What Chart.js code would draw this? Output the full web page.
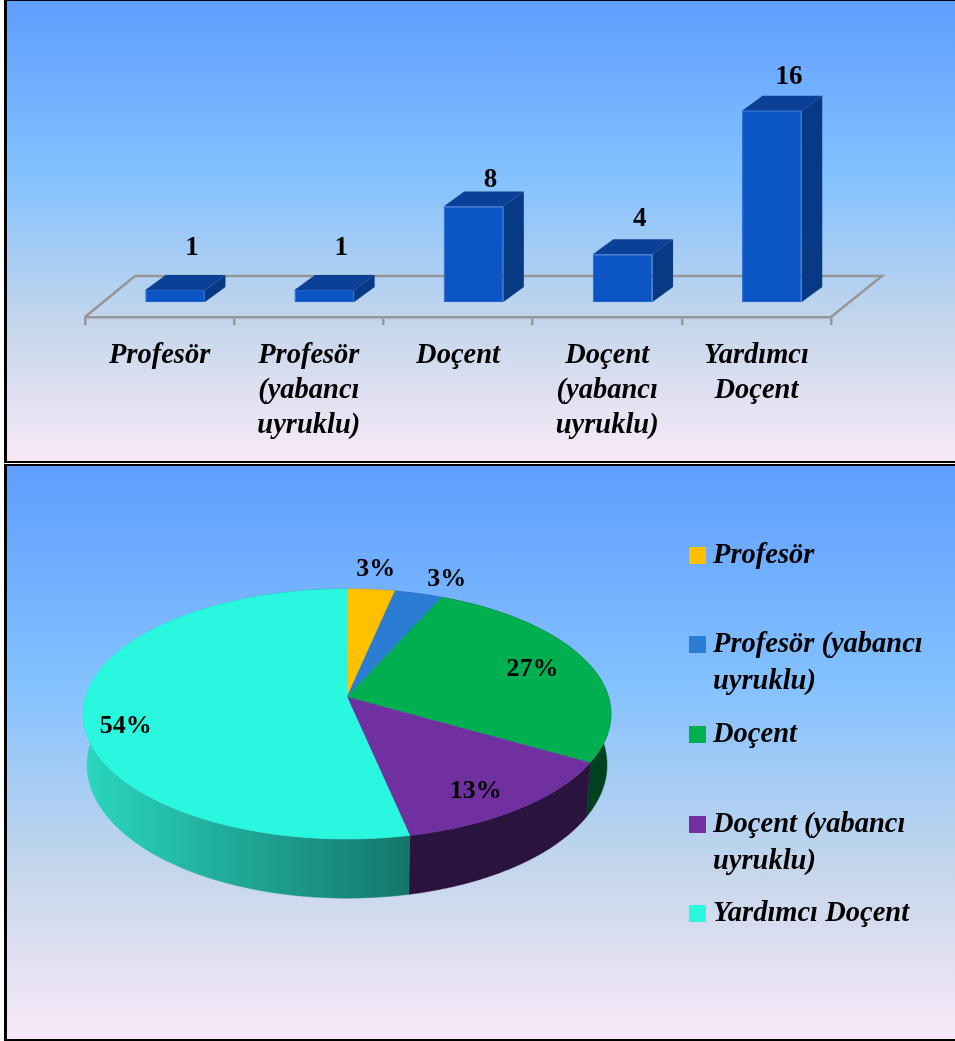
<!DOCTYPE html>
<html lang="tr">
<head>
<meta charset="utf-8">
<title>Akademik personel</title>
<script src="https://cdn.jsdelivr.net/npm/chart.js@4"></script>
<style>
  html, body { margin: 0; padding: 0; background: #fff; overflow: hidden; }
  .panel {
    position: absolute;
    left: 4px;
    width: 951px;
    box-sizing: border-box;
    border: 2px solid #000;
    border-left-width: 3px;
    border-right: 0;
    background: linear-gradient(180deg, #5e9eff 0%, #85c2ff 39%, #c4d6eb 70%, #f9e9f8 100%);
  }
  #panel-barras { top: 0; height: 463px; border-top-width: 1px; }
  #panel-pizza { top: 464px; height: 577px; }
  canvas { position: absolute; display: block; }
  #grafico-barras { left: -7px; top: -1px; }
  #grafico-pizza { left: -7px; top: -2px; }
</style>
</head>
<body>
<div class="panel" id="panel-barras"><canvas id="grafico-barras" width="955" height="463"></canvas></div>
<div class="panel" id="panel-pizza"><canvas id="grafico-pizza" width="955" height="577"></canvas></div>

<script>
const categorias = [['Profesör'], ['Profesör', '(yabancı', 'uyruklu)'], ['Doçent'], ['Doçent', '(yabancı', 'uyruklu)'], ['Yardımcı', 'Doçent']];
const valores = [1, 1, 8, 4, 16];

const rotulosPizza = ['3%', '3%', '27%', '13%', '54%'];
const legendaPizza = [['Profesör'], ['Profesör (yabancı', 'uyruklu)'], ['Doçent'], ['Doçent (yabancı', 'uyruklu)'], ['Yardımcı Doçent']];
const coresPizza = ['#ffc000', '#2a7dd2', '#00b050', '#7030a0', '#29f7de'];
const ladoClaroPizza = ['#a87e00', '#1b5289', '#004f23', '#2f1545', '#2ad6be'];
const ladoEscuroPizza = ['#a87e00', '#1b5289', '#00421d', '#2b1340', '#14766b'];

const fonteTexto = "'Liberation Serif', serif";
const corTexto = '#000';

// quanto o numero fica acima da frente de cada barra
const alturaRotulo = [42, 42, 26, 35, 34];
const raioRotulo = [1.23, 1.2, 0.77, 0.82, 0.85];
const giroRotulo = [0, 3.5, 0, 3, -9];
const legendaY = [563, 652, 742, 832, 921];

const deslocX = 15.5;
const deslocY = 15;
const fundoX = 50;
const fundoY = 41;

const pluginBarras3d = {
  id: 'barras3d',
  beforeDatasetsDraw(chart) {
    const ctx = chart.ctx;
    const area = chart.chartArea;
    // piso em perspectiva, a linha da frente e o eixo x
    ctx.save();
    ctx.strokeStyle = '#969696';
    ctx.lineWidth = 2.5;
    ctx.beginPath();
    ctx.moveTo(area.left, area.bottom);
    ctx.lineTo(area.left + fundoX, area.bottom - fundoY);
    ctx.lineTo(area.right + fundoX + 1, area.bottom - fundoY);
    ctx.lineTo(area.right, area.bottom);
    ctx.stroke();
    ctx.restore();

    ctx.save();
    ctx.translate(deslocX, -deslocY);
    chart.getDatasetMeta(0).data.forEach(function (barra) {
      const esq = barra.x - barra.width / 2;
      const dir = barra.x + barra.width / 2;
      const dx = 20.5;
      const dy = 15;
      ctx.fillStyle = '#0a4095';
      ctx.beginPath();
      ctx.moveTo(esq, barra.y);
      ctx.lineTo(esq + dx, barra.y - dy);
      ctx.lineTo(dir + dx, barra.y - dy);
      ctx.lineTo(dir, barra.y);
      ctx.closePath();
      ctx.fill();
      ctx.fillStyle = '#083984';
      ctx.beginPath();
      ctx.moveTo(dir, barra.y);
      ctx.lineTo(dir + dx, barra.y - dy);
      ctx.lineTo(dir + dx, barra.base - dy);
      ctx.lineTo(dir, barra.base);
      ctx.closePath();
      ctx.fill();
    });
  },
  afterDatasetsDraw(chart) {
    const ctx = chart.ctx;
    ctx.restore();
    ctx.save();
    ctx.font = 'bold 27px ' + fonteTexto;
    ctx.fillStyle = corTexto;
    ctx.textAlign = 'center';
    ctx.textBaseline = 'middle';
    chart.getDatasetMeta(0).data.forEach(function (barra, i) {
      ctx.fillText(String(valores[i]), barra.x + deslocX + 17, barra.y - deslocY - alturaRotulo[i]);
    });
    ctx.restore();
  }
};

new Chart(document.getElementById('grafico-barras').getContext('2d'), {
  type: 'bar',
  data: {
    labels: categorias,
    datasets: [{
      data: valores,
      backgroundColor: '#0c55c4',
      borderColor: '#1d63cc',
      borderWidth: 1,
      borderSkipped: false,
      barPercentage: 0.4,
      categoryPercentage: 1
    }]
  },
  options: {
    responsive: false,
    animation: false,
    layout: { padding: { left: 85, right: 124, top: 78, bottom: 0 } },
    plugins: { legend: { display: false }, tooltip: { enabled: false } },
    scales: {
      x: {
        afterFit(escala) { escala.height = 146; },
        border: { color: '#969696', width: 2.5 },
        grid: { drawOnChartArea: false, color: '#969696', lineWidth: 2.5, tickLength: 8 },
        ticks: {
          autoSkip: false,
          maxRotation: 0,
          minRotation: 0,
          padding: 13,
          color: corTexto,
          font: { family: fonteTexto, size: 28.5, style: 'italic', weight: 'bold', lineHeight: 1.23 }
        }
      },
      y: { display: false, min: 0, max: 20 }
    }
  },
  plugins: [pluginBarras3d]
});

// a pizza do original tem perspectiva: o centro nao fica no meio da elipse
const fugaPizza = 0.136;
const largPizza = 261.5;
const altPizza = 122.7;

function projetar(fatia, r, angulo) {
  const u = r * Math.cos(angulo);
  const v = r * Math.sin(angulo);
  const d = 1 - fugaPizza * v;
  return { x: fatia.x + largPizza * u / d, y: fatia.y + altPizza * v / d };
}

function projetarBase(fatia, angulo) {
  const u = Math.cos(angulo);
  const v = Math.sin(angulo);
  const d = 1 - fugaPizza * v;
  return { x: fatia.x + 0.985 * largPizza * u / d, y: fatia.y + 49.8 + 1.066 * altPizza * v / d };
}

const pluginPizza3d = {
  id: 'pizza3d',
  beforeDatasetsDraw(chart) {
    const ctx = chart.ctx;
    const fatias = chart.getDatasetMeta(0).data;

    // lateral primeiro, o topo cobre o que fica atras
    fatias.forEach(function (fatia, i) {
      const passos = 80;
      const grad = ctx.createLinearGradient(fatia.x - largPizza, 0, fatia.x + 62, 0);
      grad.addColorStop(0, ladoClaroPizza[i]);
      grad.addColorStop(1, ladoEscuroPizza[i]);
      ctx.fillStyle = grad;
      ctx.strokeStyle = grad;
      ctx.lineWidth = 0.5;
      ctx.beginPath();
      for (let p = 0; p <= passos; p++) {
        const a = fatia.startAngle + (fatia.endAngle - fatia.startAngle) * p / passos;
        const q = projetar(fatia, 1, a);
        if (p === 0) ctx.moveTo(q.x, q.y); else ctx.lineTo(q.x, q.y);
      }
      for (let p = passos; p >= 0; p--) {
        const a = fatia.startAngle + (fatia.endAngle - fatia.startAngle) * p / passos;
        const q = projetarBase(fatia, a);
        ctx.lineTo(q.x, q.y);
      }
      ctx.closePath();
      ctx.fill();
      ctx.stroke();
    });

    fatias.forEach(function (fatia, i) {
      const passos = 80;
      ctx.fillStyle = coresPizza[i];
      ctx.strokeStyle = coresPizza[i];
      ctx.lineWidth = 0.5;
      ctx.beginPath();
      ctx.moveTo(fatia.x, fatia.y);
      for (let p = 0; p <= passos; p++) {
        const a = fatia.startAngle + (fatia.endAngle - fatia.startAngle) * p / passos;
        const q = projetar(fatia, 1, a);
        ctx.lineTo(q.x, q.y);
      }
      ctx.closePath();
      ctx.fill();
      ctx.stroke();
    });
    return false;
  },
  afterDraw(chart) {
    const ctx = chart.ctx;
    const fatias = chart.getDatasetMeta(0).data;
    ctx.save();
    ctx.fillStyle = corTexto;
    ctx.textAlign = 'center';
    ctx.textBaseline = 'middle';
    ctx.font = 'bold 26px ' + fonteTexto;
    fatias.forEach(function (fatia, i) {
      const meio = (fatia.startAngle + fatia.endAngle) / 2 + giroRotulo[i] * Math.PI / 180;
      const q = projetar(fatia, raioRotulo[i], meio);
      ctx.fillText(rotulosPizza[i], q.x, q.y + 1);
    });

    // legenda feita a mao porque o chart.js nao quebra linha como o original
    const topoPainel = 464;
    ctx.textAlign = 'left';
    ctx.textBaseline = 'alphabetic';
    ctx.font = 'italic bold 28.5px ' + fonteTexto;
    legendaPizza.forEach(function (linhas, i) {
      const y = legendaY[i] - topoPainel;
      ctx.fillStyle = coresPizza[i];
      ctx.fillRect(689, y - 16, 17, 17);
      ctx.fillStyle = corTexto;
      linhas.forEach(function (linha, n) {
        ctx.fillText(linha, 713, y + n * 36.5);
      });
    });
    ctx.restore();
  }
};

new Chart(document.getElementById('grafico-pizza').getContext('2d'), {
  type: 'pie',
  data: {
    labels: legendaPizza.map(function (l) { return l.join(' '); }),
    datasets: [{ data: valores, backgroundColor: coresPizza, borderWidth: 0 }]
  },
  options: {
    responsive: false,
    animation: false,
    // so para o centro da pizza cair em 347, 233; o raio real vem de projetar()
    layout: { padding: { left: 147, right: 408, top: 33, bottom: 144 } },
    plugins: { legend: { display: false }, tooltip: { enabled: false } }
  },
  plugins: [pluginPizza3d]
});
</script>
</body>
</html>
